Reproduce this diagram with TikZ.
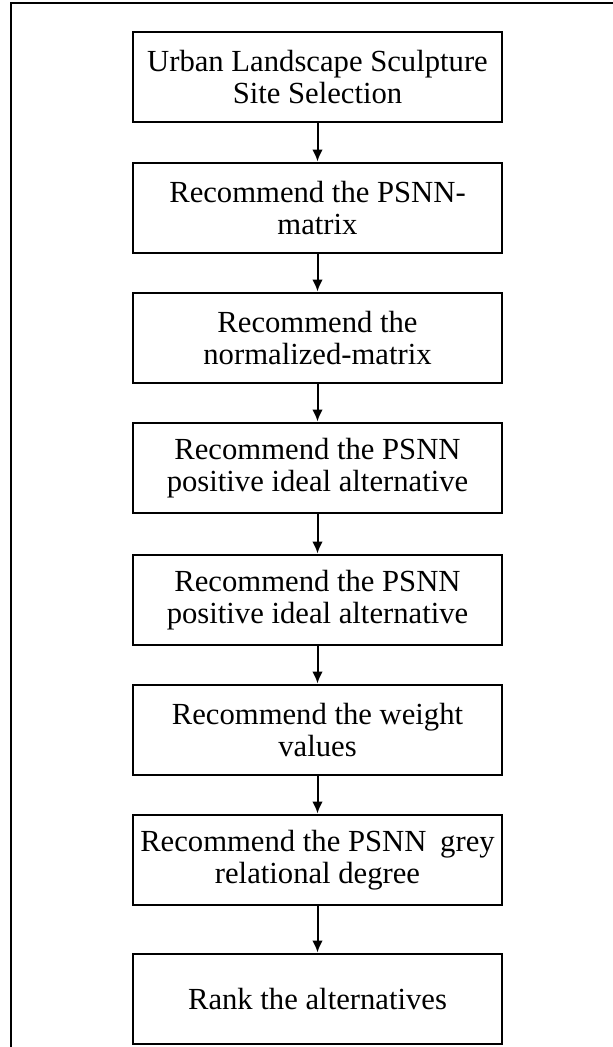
\documentclass[tikz,border=0pt]{standalone}
\usepackage{fontspec}
\setmainfont{Liberation Serif}
\usetikzlibrary{arrows.meta}
\begin{document}
\begin{tikzpicture}[x=0.75pt,y=-0.75pt,
  stepbox/.style={draw=black, line width=2.2pt, minimum width=276.75pt, minimum height=67.5pt,
    align=center, inner sep=0pt, font=\fontsize{23}{23.5}\selectfont},
  flow/.style={line width=1.5pt, -{Latex[length=9pt,width=8pt]}}]
\useasboundingbox (0,0) rectangle (613,1047);
\draw[line width=2.2pt] (11,1047) -- (11,3) -- (613,3);
\node[stepbox] (n1) at (317.5,77) {Urban Landscape Sculpture\\Site Selection};
\node[stepbox] (n2) at (317.5,208) {Recommend the PSNN-\\matrix};
\node[stepbox] (n3) at (317.5,338) {Recommend the\\normalized-matrix};
\node[stepbox] (n4) at (317.5,468) {Recommend the PSNN\\positive ideal alternative};
\node[stepbox] (n5) at (317.5,600) {Recommend the PSNN\\positive ideal alternative};
\node[stepbox] (n6) at (317.5,730) {Recommend the weight\\values};
\node[stepbox] (n7) at (317.5,860) {Recommend the PSNN\hspace{0.45em}grey\\relational degree};
\node[stepbox] (n8) at (317.5,999) {Rank the alternatives};
\foreach \a/\b in {n1/n2,n2/n3,n3/n4,n4/n5,n5/n6,n6/n7,n7/n8}
  \draw[flow] (\a.south) -- (\b.north);
\end{tikzpicture}
\end{document}
